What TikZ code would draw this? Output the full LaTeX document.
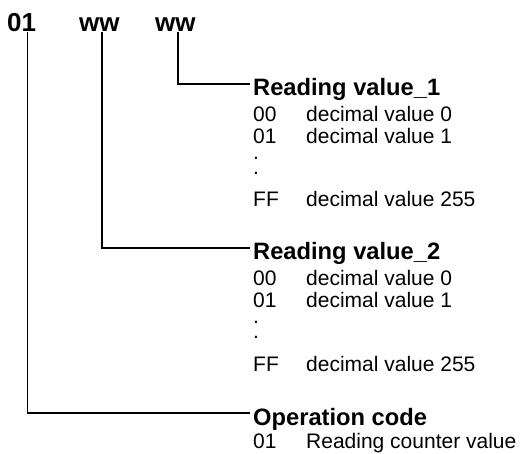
\documentclass[tikz,border=0pt]{standalone}
\usepackage{fontspec}
\setmainfont{Liberation Sans}
\usetikzlibrary{positioning}

\newcommand{\codeline}[2]{\makebox[53pt][l]{#1}#2}

\begin{document}
\begin{tikzpicture}[
    x=1pt, y=-1pt,
    field/.style={anchor=base west, inner sep=0pt, font=\fontsize{26}{30}\selectfont\bfseries},
    heading/.style={anchor=base west, inner xsep=3pt, inner ysep=0pt, text height=24pt, text depth=0pt, font=\fontsize{23.7}{28}\selectfont\bfseries},
    entry/.style={anchor=base west, inner sep=0pt, font=\fontsize{21}{25}\selectfont},
    wire/.style={line width=1.2pt}
  ]
    \useasboundingbox (0,0) rectangle (522,454);
    % telegram fields
    \node[field] (op) at (7,32) {01};
    \node[field] (val2) at (79,32) {ww};
    \node[field] (val1) at (155,32) {ww};
    % reading value 1
    \node[heading] (head1) at (250,96) {Reading value\_1};
    \node[entry] (v1zero) at (253,122) {\codeline{00}{decimal value 0}};
    \node[entry] (v1one) at (253,143.5) {\codeline{01}{decimal value 1}};
    \node[entry] (v1dota) at (253,159.5) {.};
    \node[entry] (v1dotb) at (253,174.5) {.};
    \node[entry] (v1max) at (253,207) {\codeline{FF}{decimal value 255}};
    % reading value 2
    \node[heading] (head2) at (250,260) {Reading value\_2};
    \node[entry] (v2zero) at (253,286) {\codeline{00}{decimal value 0}};
    \node[entry] (v2one) at (253,307.5) {\codeline{01}{decimal value 1}};
    \node[entry] (v2dota) at (253,323.5) {.};
    \node[entry] (v2dotb) at (253,338.5) {.};
    \node[entry] (v2max) at (253,371) {\codeline{FF}{decimal value 255}};
    % operation code
    \node[heading] (head3) at (250,425) {Operation code};
    \node[entry] (opread) at (253,448) {\codeline{01}{Reading counter value}};
    \draw[wire] ([xshift=5.5pt]op.south) |- (head3.west);
    \draw[wire] ([xshift=2.5pt]val2.south) |- (head2.west);
    \draw[wire] ([xshift=2.5pt]val1.south) |- (head1.west);
  \end{tikzpicture}
\end{document}
